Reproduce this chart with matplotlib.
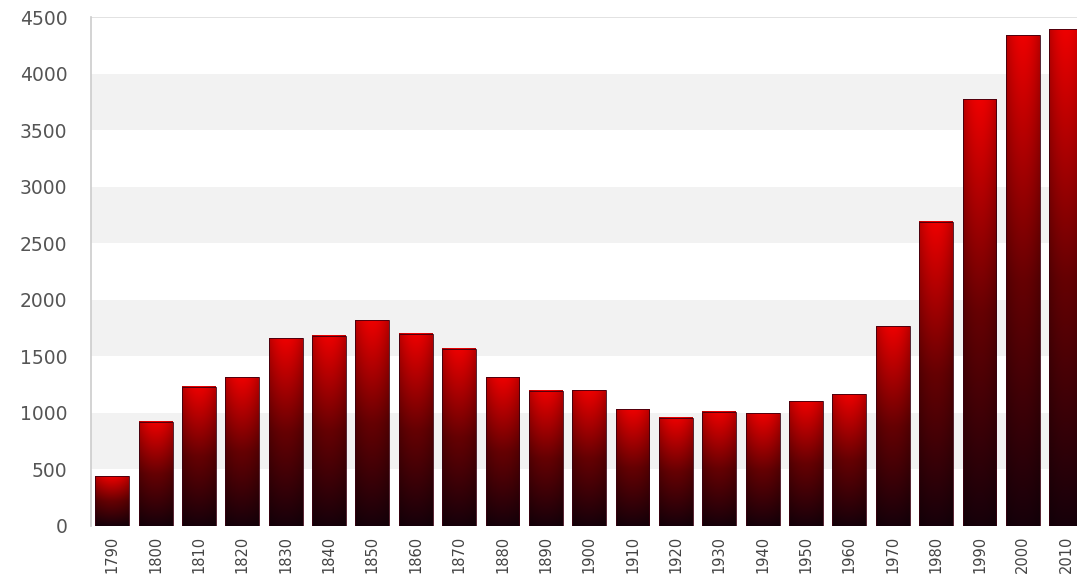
import numpy as np
import matplotlib
matplotlib.use("Agg")
import matplotlib.pyplot as plt
from matplotlib.colors import LinearSegmentedColormap

# census years and values
years = [1790, 1800, 1810, 1820, 1830, 1840, 1850, 1860, 1870, 1880, 1890, 1900,
         1910, 1920, 1930, 1940, 1950, 1960, 1970, 1980, 1990, 2000, 2010]
values = [442, 920, 1229, 1317, 1662, 1680, 1821, 1698, 1565, 1317, 1194, 1202,
          1034, 955, 1008, 999, 1105, 1167, 1768, 2688, 3775, 4341, 4394]
yticks = [0, 500, 1000, 1500, 2000, 2500, 3000, 3500, 4000, 4500]

fig = plt.figure(figsize=(10.77, 5.77), dpi=100)
ax = fig.add_axes([0.0845, 0.0884, 0.9155, 0.8821])

# alternating grey bands
for lo in range(500, 4500, 1000):
    ax.axhspan(lo, lo + 500, color="#f2f2f2", zorder=0, lw=0)
ax.axhline(4500, color="#dddddd", lw=1.2, zorder=1)

# red -> black gradient, a little darker at the sides
cmap = LinearSegmentedColormap.from_list(
    "rb", [(0.09, 0.0, 0.04), (0.40, 0.0, 0.01), (0.93, 0.0, 0.0)])
vert = np.linspace(0, 1, 256)[:, None]
horiz = 1 - 0.22 * np.abs(np.linspace(-1, 1, 64))[None, :] ** 2
grad = cmap(vert * np.ones((1, 64)))
grad[..., :3] *= horiz[..., None]

x = np.arange(len(years))
w = 0.78
bars = ax.bar(x, values, width=w, facecolor="none", edgecolor="#3a0010",
              linewidth=0.6, zorder=3)
for b in bars:
    x0, h = b.get_x(), b.get_height()
    ax.imshow(grad, extent=(x0, x0 + w, 0, h), origin="lower",
              aspect="auto", zorder=2, interpolation="bilinear")
ax.set_xlim(-0.49, 22.25)
ax.set_ylim(0, 4500)

ax.set_xticks(x)
ax.set_xticklabels([str(y) for y in years], rotation=90,
                   fontsize=10.5, color="#444444")
ax.set_yticks(yticks)
ax.set_yticklabels([str(v) for v in yticks], fontsize=13.5, color="#555555")
ax.tick_params(axis="both", length=0)
ax.tick_params(axis="y", pad=17)
ax.tick_params(axis="x", pad=7)

for s in ["top", "right", "bottom"]:
    ax.spines[s].set_visible(False)
ax.spines["left"].set_color("#cccccc")
ax.spines["left"].set_linewidth(1.2)

fig.savefig("out.png", dpi=100)
